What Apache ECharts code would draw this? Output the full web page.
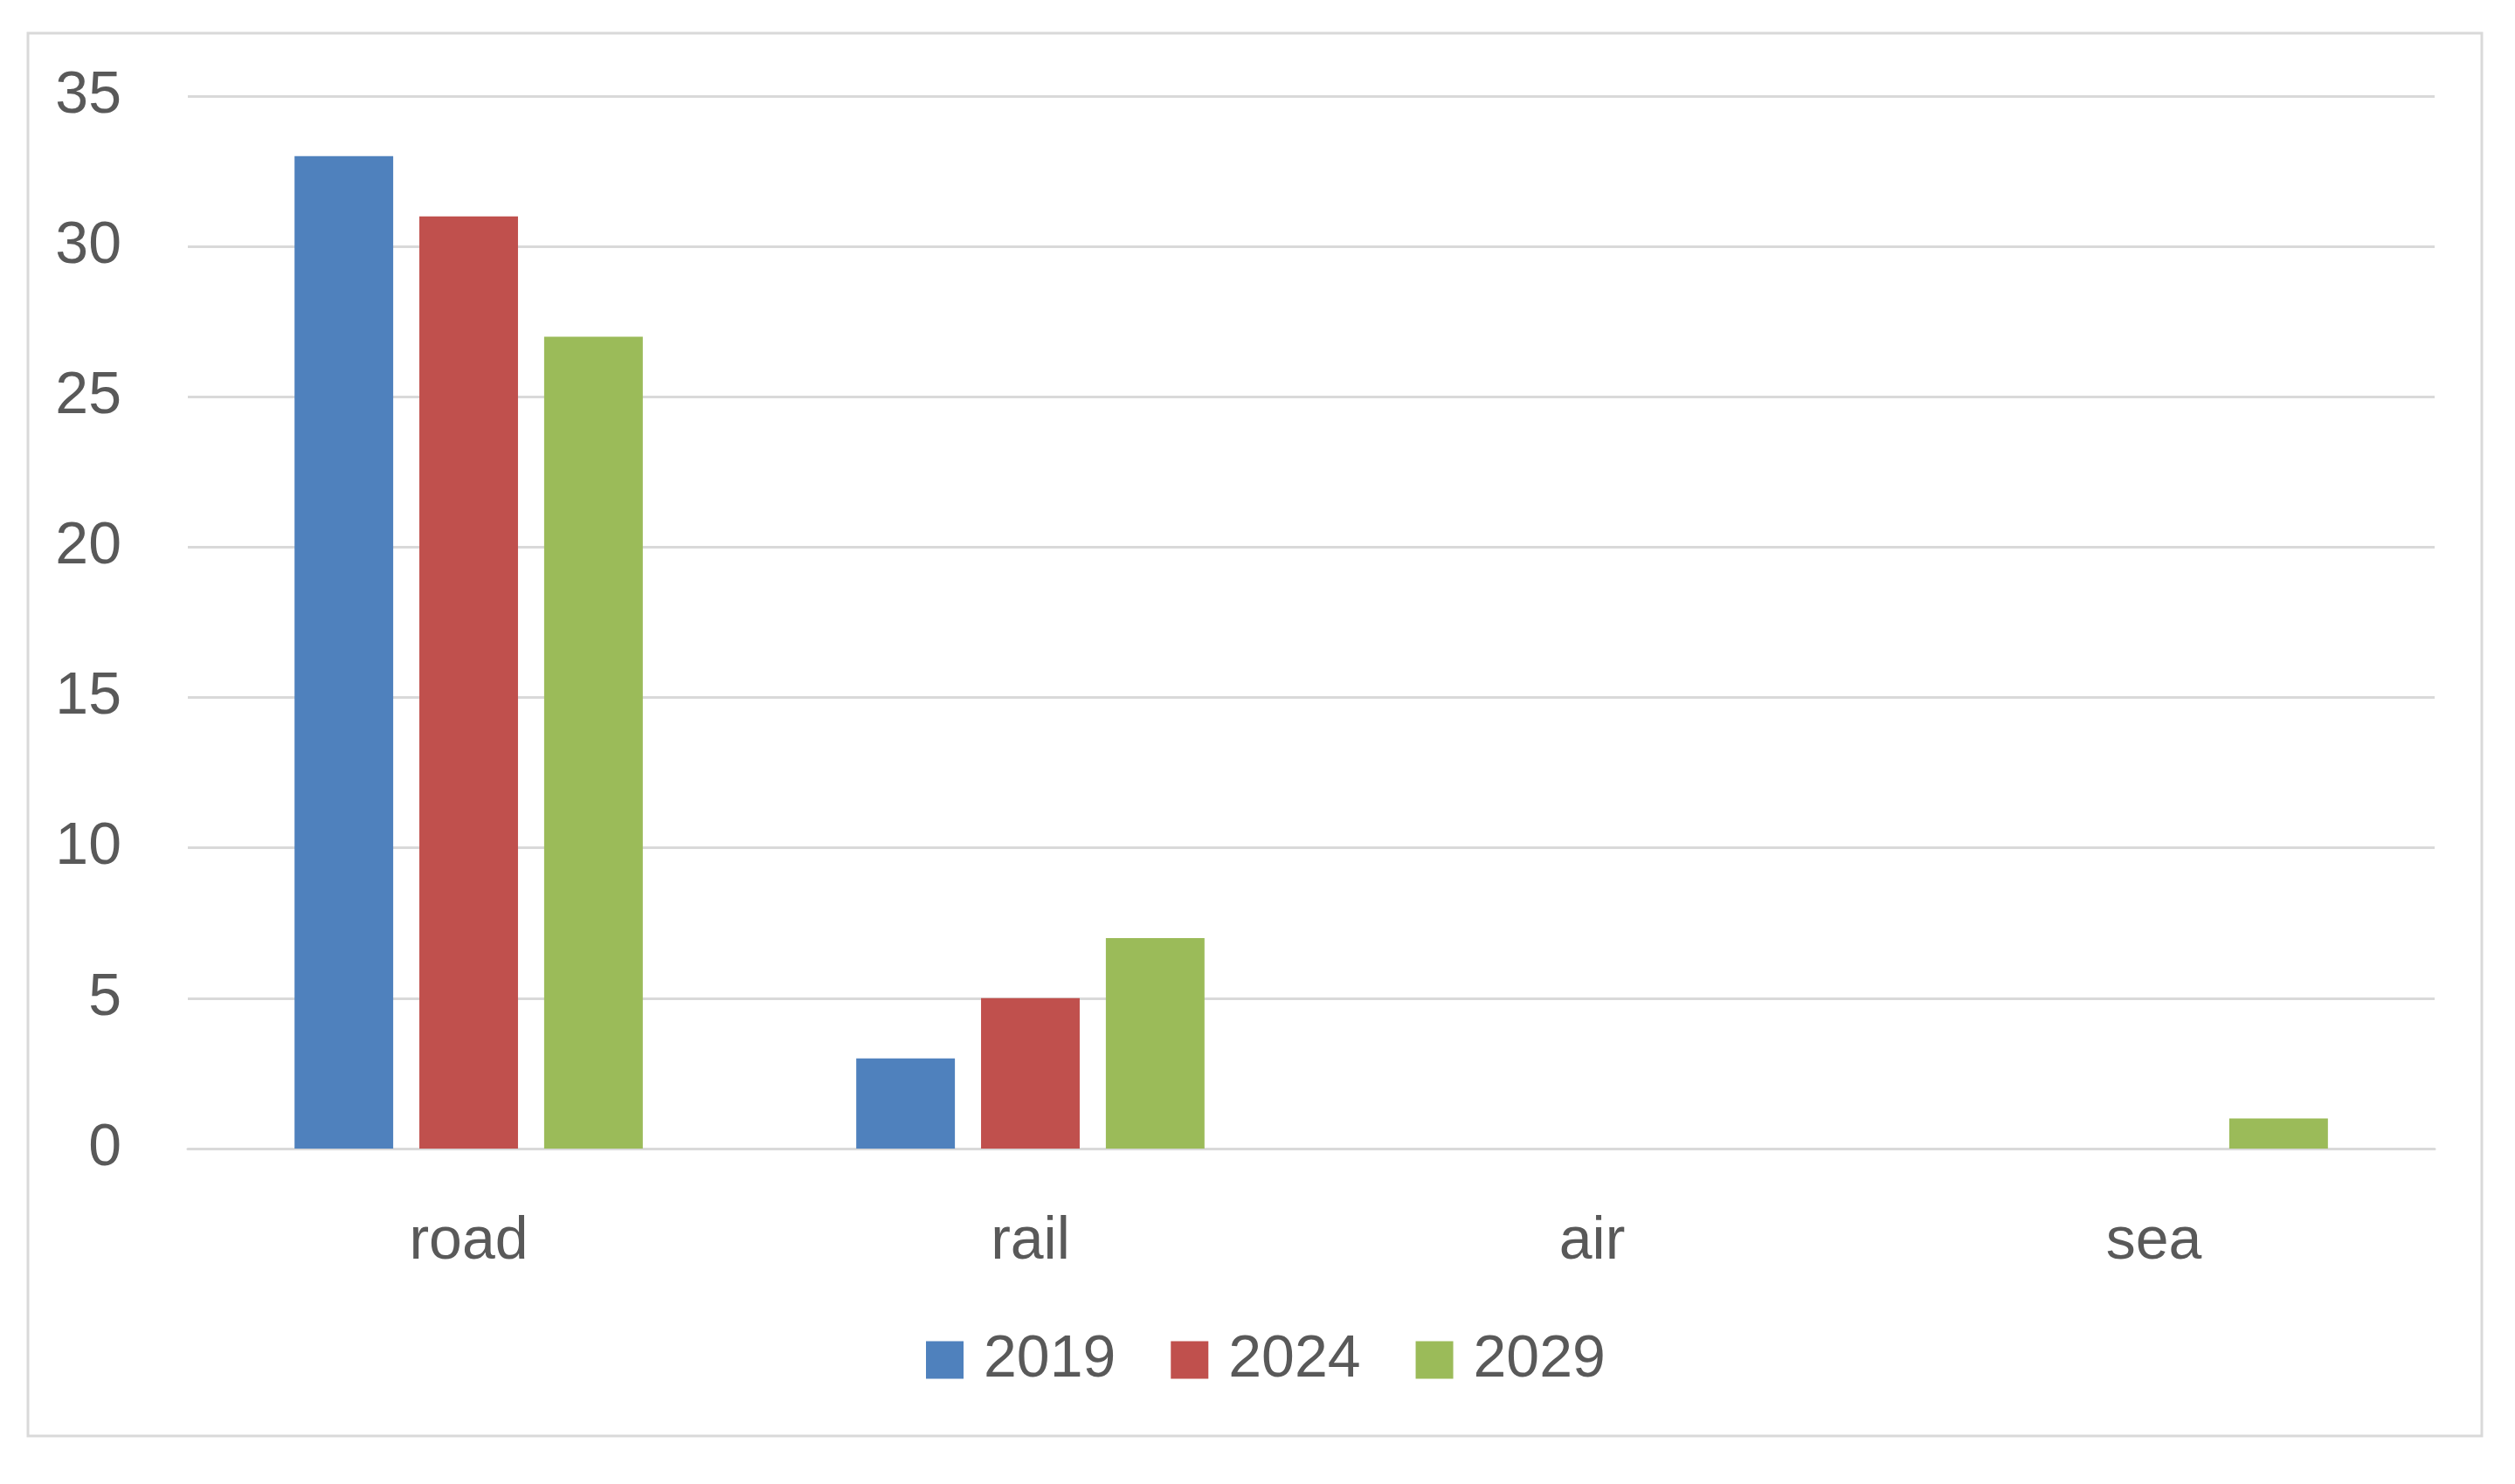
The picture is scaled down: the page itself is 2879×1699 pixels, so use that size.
<!DOCTYPE html>
<html>
<head>
<meta charset="utf-8">
<style>
html,body{margin:0;padding:0;background:#fff;}
#chart{width:2879px;height:1699px;}
</style>
<script src="https://cdn.jsdelivr.net/npm/echarts@6/dist/echarts.min.js"></script>
</head>
<body>
<div id="chart"></div>
<script>
const categories = ['road', 'rail', 'air', 'sea'];
const seriesNames = ['2019', '2024', '2029'];
const values2019 = [33, 3, 0, 0];
const values2024 = [31, 5, 0, 0];
const values2029 = [27, 7, 0, 1];
const colors = ['#4F81BD', '#C0504D', '#9BBB59'];

const FONT = 'Liberation Sans';
const TEXT = '#595959';
const seriesData = [values2019, values2024, values2029];

const chart = echarts.init(document.getElementById('chart'), null, {renderer: 'canvas'});
chart.setOption({
  animation: false,
  backgroundColor: '#ffffff',
  graphic: [{
    type: 'rect',
    shape: {x: 32, y: 38, width: 2809, height: 1606},
    style: {fill: 'none', stroke: '#D9D9D9', lineWidth: 3},
    silent: true, z: -10
  }],
  grid: {left: 215, right: 92, top: 110, bottom: 384, containLabel: false},
  legend: {
    data: seriesNames,
    left: 1055,
    top: 1518,
    icon: 'rect',
    itemWidth: 43,
    itemHeight: 43,
    itemGap: 63,
    textStyle: {fontFamily: FONT, fontSize: 68, color: TEXT, padding: [0, 0, 0, 18], lineHeight: 43}
  },
  xAxis: {
    type: 'category',
    data: categories,
    axisLine: {show: true, lineStyle: {color: '#D9D9D9', width: 3}},
    axisTick: {show: false},
    axisLabel: {fontFamily: FONT, fontSize: 68, color: TEXT, margin: 73}
  },
  yAxis: {
    type: 'value',
    min: 0, max: 35, interval: 5,
    axisLine: {show: false},
    axisTick: {show: false},
    splitLine: {lineStyle: {color: '#D9D9D9', width: 3}},
    axisLabel: {fontFamily: FONT, fontSize: 68, color: TEXT, margin: 76}
  },
  series: seriesNames.map((name, i) => ({
    name: name,
    type: 'bar',
    data: seriesData[i],
    itemStyle: {color: colors[i]},
    barGap: '26.5%',
    barCategoryGap: '38%'
  }))
});
</script>
</body>
</html>
